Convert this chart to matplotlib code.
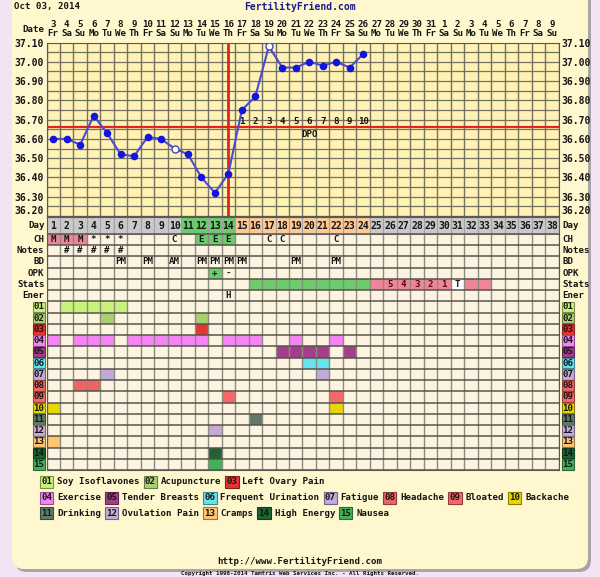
"""Recreate a FertilityFriend style BBT chart with matplotlib."""

import datetime as dt

import matplotlib

matplotlib.use("Agg")
import matplotlib.pyplot as plt
import numpy as np
from matplotlib.patches import FancyBboxPatch
from matplotlib.transforms import blended_transform_factory

W, H = 600, 577
FONT = "DejaVu Sans Mono"

# ---- data -------------------------------------------------------------
START = dt.date(2014, 10, 3)
N_DAYS = 38
DAYS = list(range(1, N_DAYS + 1))
WEEKDAYS = ["Mo", "Tu", "We", "Th", "Fr", "Sa", "Su"]

TEMP_DAYS = list(range(1, 25))
TEMPS = [36.60, 36.60, 36.57, 36.72, 36.63, 36.52, 36.51, 36.61, 36.60, 36.55,
         36.52, 36.40, 36.32, 36.42, 36.75, 36.82, 37.08, 36.97, 36.97, 37.00,
         36.98, 37.00, 36.97, 37.04]
OPEN_DAYS = [10, 17]
COVERLINE = 36.66
OVULATION_DAY = 14
DPO_DAYS = list(range(15, 25))

PHASE_GREEN_DAYS = [11, 12, 13, 14]
PHASE_ORANGE_DAYS = list(range(15, 25))

CH_DAYS = [1, 2, 3, 4, 5, 6, 10, 12, 13, 14, 17, 18, 22]
CH_TEXT = ["M", "M", "M", "*", "*", "*", "C", "E", "E", "E", "C", "C", "C"]
NOTES_DAYS = [2, 3, 4, 5, 6]
BD_DAYS = [6, 8, 10, 12, 13, 14, 15, 19, 22]
BD_TEXT = ["PM", "PM", "AM", "PM", "PM", "PM", "PM", "PM", "PM"]
OPK_DAYS = [13, 14]
OPK_TEXT = ["+", "-"]
STATS_GREEN_DAYS = list(range(16, 25))
STATS_PINK_DAYS = [25, 26, 27, 28, 29, 30, 32, 33]
STATS_PINK_TEXT = ["", "5", "4", "3", "2", "1", "", ""]
STATS_TEST_DAY = 31
ENER_DAYS = [14]
ENER_TEXT = ["H"]

INFO_ROWS = ["CH", "Notes", "BD", "OPK", "Stats", "Ener"]

SYMPTOM_NAMES = ["Soy Isoflavones", "Acupuncture", "Left Ovary Pain", "Exercise",
                 "Tender Breasts", "Frequent Urination", "Fatigue", "Headache",
                 "Bloated", "Backache", "Drinking", "Ovulation Pain", "Cramps",
                 "High Energy", "Nausea"]
SYMPTOM_COLORS = ["#C9F27C", "#A9CF72", "#E53431", "#F584F5", "#A23E8A",
                  "#64E3F0", "#C1A9D9", "#EE6464", "#F66868", "#E8D600",
                  "#5F7A68", "#C7A9D8", "#FFC572", "#1F6233", "#42B25A"]
SYMPTOM_DAYS = [
    [2, 3, 4, 5, 6],
    [5, 12],
    [12],
    [1, 3, 4, 5, 7, 8, 9, 10, 11, 12, 14, 15, 16, 19, 22],
    [18, 19, 20, 21, 23],
    [20, 21],
    [5, 21],
    [3, 4],
    [14, 22],
    [1, 22],
    [16],
    [13],
    [1],
    [13],
    [13],
]
LEGEND_ROWS = [[0, 1, 2], [3, 4, 5, 6, 7, 8, 9], [10, 11, 12, 13, 14]]

# ---- colours ------------------------------------------------------------
OUTER_BG = "#F3E4F3"
PANEL_BG = "#FFF7CD"
TEMP_BG = "#FFF2B4"
CELL_BG = "#FCF3E0"
GRID = "#747260"
RED = "#E2231F"
GREEN = "#6CCB6C"
PINK = "#F08499"
ORANGE = "#FFC994"
GRAY = "#C9C9C9"
TXT = "#151515"

FS = 6.6


def px_rect(left, top, right, bottom):
    return [left / W, 1 - bottom / H, (right - left) / W, (bottom - top) / H]


def darker(color, f=0.6):
    r, g, b = matplotlib.colors.to_rgb(color)
    return (r * f, g * f, b * f)


def main() -> int:
    fig = plt.figure(figsize=(W / 100, H / 100), dpi=100)
    fig.patch.set_facecolor(OUTER_BG)

    # page panel
    ax_bg = fig.add_axes([0, 0, 1, 1], zorder=0)
    ax_bg.set_xlim(0, W)
    ax_bg.set_ylim(H, 0)
    ax_bg.axis("off")
    ax_bg.add_patch(FancyBboxPatch((15, -20), 576, 592,
                                   boxstyle="round,pad=0,rounding_size=12",
                                   fc="#aaa3aa", ec="none"))
    ax_bg.add_patch(FancyBboxPatch((12, -20), 576, 589,
                                   boxstyle="round,pad=0,rounding_size=12",
                                   fc=PANEL_BG, ec="none"))

    txt = dict(family=FONT, weight="bold", color=TXT, fontsize=FS)
    ax_bg.text(14, 7, "Oct 03, 2014", ha="left", va="center", **txt)
    ax_bg.text(300, 7, "FertilityFriend.com", ha="center", va="center",
               family=FONT, weight="bold", fontsize=7, color="#1a1a8a")

    # ---- temperature chart ----
    ax_t = fig.add_axes(px_rect(46.5, 42.5, 558.5, 216), zorder=2)
    ax_t.set_facecolor(TEMP_BG)
    ax_t.set_xlim(0.5, N_DAYS + 0.5)
    ax_t.set_ylim(36.20, 37.10)
    ax_t.set_xticks([])
    yt = np.round(np.arange(36.20, 37.101, 0.10), 2)
    ax_t.set_yticks(yt)
    ax_t.set_yticklabels([f"{v:.2f}" for v in yt], family=FONT,
                         weight="bold", fontsize=7, color=TXT)
    ax_t.tick_params(axis="y", length=0, pad=2, labelleft=True, labelright=True)
    # lowest label sits just above the Day row
    ax_t.yaxis.get_major_ticks()[0].label1.set_va("bottom")
    ax_t.yaxis.get_major_ticks()[0].label2.set_va("bottom")
    for sp in ax_t.spines.values():
        sp.set_color("#5a5a50")
    ax_t.vlines(np.arange(0.5, N_DAYS + 1), 36.20, 37.10, color=GRID, lw=1.0, zorder=1)
    ax_t.hlines(np.arange(36.20, 37.10, 0.05), 0.5, N_DAYS + 0.5, color=GRID,
                lw=0.9, zorder=1)
    ax_t.axhline(COVERLINE, color=RED, lw=1.6, zorder=3)
    ax_t.axvline(OVULATION_DAY, color=RED, lw=2.0, zorder=3)

    ax_t.plot(TEMP_DAYS, TEMPS, color="#4b4bd2", lw=1.5, zorder=4)
    fd = [d for d in TEMP_DAYS if d not in OPEN_DAYS]
    ft = [t for d, t in zip(TEMP_DAYS, TEMPS) if d not in OPEN_DAYS]
    od = [d for d in TEMP_DAYS if d in OPEN_DAYS]
    ot = [t for d, t in zip(TEMP_DAYS, TEMPS) if d in OPEN_DAYS]
    ax_t.scatter(fd, ft, s=30, color="#1414e0", zorder=5, lw=0)
    ax_t.scatter(od, ot, s=26, facecolor="white", edgecolor="#4545d0", lw=1, zorder=5)

    for i, d in enumerate(DPO_DAYS):
        ax_t.text(d, 36.69, str(i + 1), ha="center", va="center", zorder=6, **txt)
    ax_t.text(20, 36.623, "DPO", ha="center", va="center", zorder=6, **txt)

    hdr = blended_transform_factory(ax_t.transData, ax_t.transAxes)
    for d in DAYS:
        date = START + dt.timedelta(days=d - 1)
        ax_t.text(d, 1.101, str(date.day), transform=hdr, ha="center",
                  va="center", clip_on=False, **txt)
        ax_t.text(d, 1.049, WEEKDAYS[date.weekday()], transform=hdr,
                  ha="center", va="center", clip_on=False, **txt)
    ax_t.text(-0.004, 1.075, "Date", transform=ax_t.transAxes, ha="right",
              va="center", clip_on=False, **txt)

    # ---- row grid ----
    day_h = 1.45
    total = day_h + len(INFO_ROWS) + len(SYMPTOM_NAMES)
    ax_r = fig.add_axes(px_rect(46.5, 217.5, 558.5, 470), zorder=2)
    ax_r.set_facecolor(CELL_BG)
    ax_r.set_xlim(0.5, N_DAYS + 0.5)
    ax_r.set_ylim(total, 0)
    ax_r.set_xticks([])
    ax_r.set_yticks([])
    for sp in ax_r.spines.values():
        sp.set_color("#5a5a50")

    def row_y(k):
        return day_h + k

    phase_colors = [GREEN if d in PHASE_GREEN_DAYS else ORANGE if d in PHASE_ORANGE_DAYS
                    else GRAY for d in DAYS]
    ax_r.bar(DAYS, day_h, bottom=0, width=1, color=phase_colors,
             edgecolor="#a3a3a3", lw=0.8, zorder=1)
    for d in DAYS:
        ax_r.text(d, day_h / 2, str(d), ha="center", va="center", zorder=4,
                  family=FONT, weight="bold", fontsize=7, color=TXT)

    def cells(k, days, color):
        ax_r.bar(days, 1, bottom=row_y(k), width=1, color=color, lw=0, zorder=1)

    def labels(k, days, texts, color=TXT):
        for d, s in zip(days, texts):
            ax_r.text(d, row_y(k) + 0.5, s, ha="center", va="center", zorder=4,
                      family=FONT, weight="bold", fontsize=FS, color=color)

    # CH
    cells(0, [d for d, s in zip(CH_DAYS, CH_TEXT) if s == "M"], PINK)
    cells(0, [d for d, s in zip(CH_DAYS, CH_TEXT) if s == "E"], GREEN)
    labels(0, CH_DAYS, CH_TEXT)
    labels(1, NOTES_DAYS, ["#"] * len(NOTES_DAYS))
    labels(2, BD_DAYS, BD_TEXT)
    cells(3, [OPK_DAYS[0]], GREEN)
    labels(3, OPK_DAYS, OPK_TEXT)
    cells(4, STATS_GREEN_DAYS, GREEN)
    cells(4, STATS_PINK_DAYS, PINK)
    cells(4, [STATS_TEST_DAY], "white")
    labels(4, STATS_PINK_DAYS, STATS_PINK_TEXT, color="#5a0a10")
    labels(4, [STATS_TEST_DAY], ["T"])
    labels(5, ENER_DAYS, ENER_TEXT)

    for i, (days, color) in enumerate(zip(SYMPTOM_DAYS, SYMPTOM_COLORS)):
        cells(len(INFO_ROWS) + i, days, color)

    ax_r.vlines(np.arange(0.5, N_DAYS + 1), day_h, total, color="#8e8c7e", lw=1.0, zorder=2)
    ax_r.hlines(day_h + np.arange(0, total - day_h + 1), 0.5, N_DAYS + 0.5,
                color="#55544a", lw=1.1, zorder=2)

    side = blended_transform_factory(ax_r.transAxes, ax_r.transData)
    for x, ha in ((-0.004, "right"), (1.008, "left")):
        ax_r.text(x, day_h / 2, "Day", transform=side, ha=ha, va="center",
                  clip_on=False, **txt)
        for k, name in enumerate(INFO_ROWS):
            ax_r.text(x, row_y(k) + 0.5, name, transform=side, ha=ha,
                      va="center", clip_on=False, **txt)
        for i, color in enumerate(SYMPTOM_COLORS):
            ax_r.text(x, row_y(len(INFO_ROWS) + i) + 0.5, f"{i + 1:02d}",
                      transform=side, ha=ha, va="center", clip_on=False,
                      bbox=dict(boxstyle="square,pad=0.08", fc=color,
                                ec=darker(color), lw=0.8), **txt)

    # ---- legend ----
    cw = FS * 0.602 * 100 / 72
    for row, y in zip(LEGEND_ROWS, (482, 498, 513)):
        x = 41
        for i in row:
            color = SYMPTOM_COLORS[i]
            ax_bg.text(x, y, f"{i + 1:02d}", ha="left", va="center",
                       bbox=dict(boxstyle="square,pad=0.12", fc=color,
                                 ec=darker(color), lw=0.8), **txt)
            ax_bg.text(x + 16, y, SYMPTOM_NAMES[i], ha="left", va="center", **txt)
            x += 16 + len(SYMPTOM_NAMES[i]) * cw + 5

    ax_bg.text(300, 562, "http://www.FertilityFriend.com", ha="center",
               va="center", **txt)
    ax_bg.text(300, 573, "Copyright 1998-2014 Tamtris Web Services Inc. - All Rights Reserved.",
               ha="center", va="center", family=FONT, weight="bold",
               fontsize=4.2, color=TXT)

    fig.savefig("out.png", dpi=100, facecolor=fig.get_facecolor())
    plt.close(fig)
    return 0


if __name__ == "__main__":
    raise SystemExit(main())
